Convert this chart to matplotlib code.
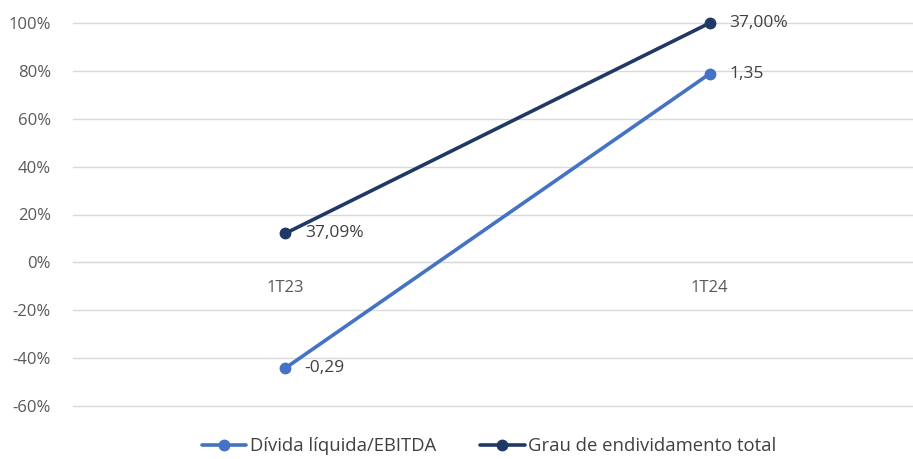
import matplotlib
matplotlib.use("Agg")
import matplotlib.pyplot as plt
from matplotlib.ticker import FuncFormatter, FixedLocator

plt.rcParams['font.family'] = ['Open Sans', 'DejaVu Sans']
plt.rcParams['axes.unicode_minus'] = False

categories = ["1T23", "1T24"]
divida_ebitda = [-44.2, 78.8]
grau_endividamento = [12.1, 100.0]
divida_labels = ["-0,29", "1,35"]
grau_labels = ["37,09%", "37,00%"]
y_ticks = [-60, -40, -20, 0, 20, 40, 60, 80, 100]

light = "#4472C4"
dark = "#203864"
text_col = "#595959"
label_col = "#404040"
grid_col = "#D9D9D9"

fig = plt.figure(figsize=(9.13, 4.59), dpi=100)
ax = fig.add_axes([73 / 913, 1 - 406 / 459, (922 - 73) / 913, (406 - 23) / 459])

x = list(range(len(categories)))
ax.plot(x, divida_ebitda, color=light, lw=2.6, marker="o", ms=7.5,
        label="Dívida líquida/EBITDA", solid_capstyle="round", zorder=3, clip_on=False)
ax.plot(x, grau_endividamento, color=dark, lw=2.6, marker="o", ms=7.5,
        label="Grau de endividamento total", solid_capstyle="round", zorder=3, clip_on=False)

for xi, yi, s in zip(x, divida_ebitda, divida_labels):
    ax.annotate(s, (xi, yi), xytext=(14, 0), textcoords="offset points",
                va="center", ha="left", fontsize=12.5, color=label_col)
for xi, yi, s in zip(x, grau_endividamento, grau_labels):
    ax.annotate(s, (xi, yi), xytext=(14, 0), textcoords="offset points",
                va="center", ha="left", fontsize=12.5, color=label_col)

ax.set_xlim(-0.5, 1.5)
ax.set_ylim(-60, 100)
ax.yaxis.set_major_locator(FixedLocator(y_ticks))
ax.yaxis.set_major_formatter(FuncFormatter(lambda v, p: f"{v:.0f}%"))
ax.grid(axis="y", color=grid_col, lw=1)
for gl in ax.get_ygridlines():
    gl.set_clip_on(False)
ax.set_axisbelow(True)

for s in ["top", "right", "left"]:
    ax.spines[s].set_visible(False)
ax.spines["bottom"].set_position(("data", 0))
ax.spines["bottom"].set_color(grid_col)

ax.set_xticks(x)
ax.set_xticklabels(categories)
ax.tick_params(axis="x", length=0, pad=13, labelsize=12, labelcolor=text_col)
ax.tick_params(axis="y", length=0, pad=16, labelsize=12, labelcolor=text_col)

leg = fig.legend(loc="center", bbox_to_anchor=(489 / 913, 1 - 446 / 459), ncol=2,
                 frameon=False, fontsize=13.3, handlelength=2.4, columnspacing=2.4,
                 handletextpad=0.2)
for t in leg.get_texts():
    t.set_color(label_col)

fig.savefig("out.png", dpi=100, facecolor="white")
